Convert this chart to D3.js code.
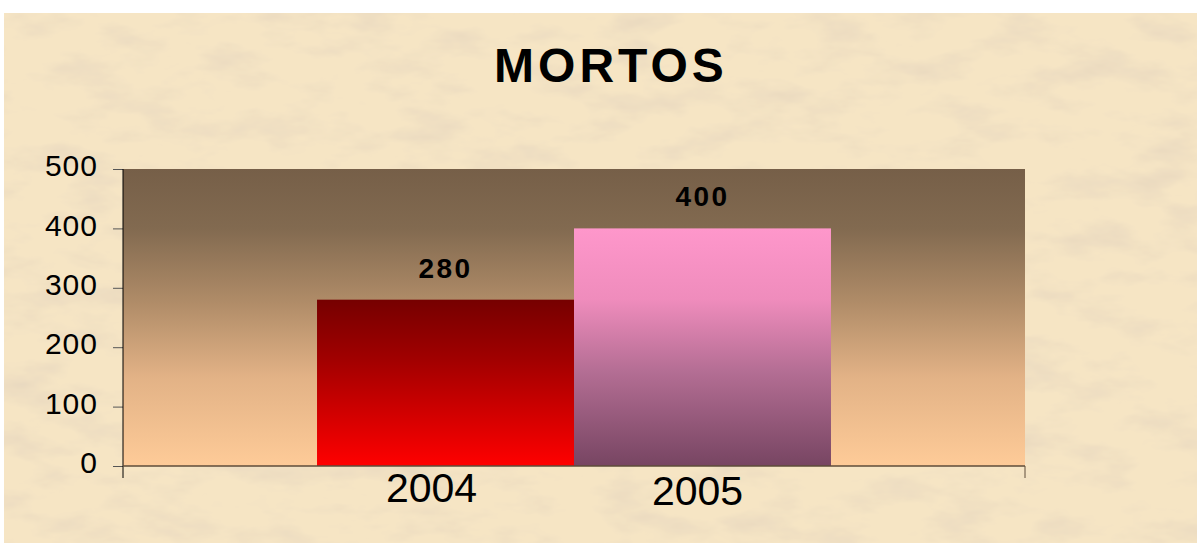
<!DOCTYPE html>
<html>
<head>
<meta charset="utf-8">
<script src="https://cdn.jsdelivr.net/npm/d3@7"></script>
<style>
  html, body { margin: 0; padding: 0; background: #fff; }
  svg { display: block; font-family: "Liberation Sans", Arial, sans-serif; }
</style>
</head>
<body>
<div id="chart"></div>
<script>
// chart data
const title = "MORTOS";
const years = ["2004", "2005"];
const deaths = [280, 400];
const yTicks = [0, 100, 200, 300, 400, 500];

const W = 1197, H = 543;
const plot = { left: 123, right: 1025, top: 169, bottom: 466 };

const svg = d3.select("#chart").append("svg")
    .attr("width", W)
    .attr("height", H);

const defs = svg.append("defs");

// parchment texture
const f = defs.append("filter").attr("id", "paper")
    .attr("x", 0).attr("y", 0).attr("width", "100%").attr("height", "100%");
f.append("feTurbulence")
    .attr("type", "fractalNoise")
    .attr("baseFrequency", "0.015 0.035")
    .attr("numOctaves", 4)
    .attr("seed", 7)
    .attr("result", "noise");
f.append("feColorMatrix")
    .attr("in", "noise")
    .attr("type", "matrix")
    .attr("values", "0 0 0 0 0.80  0 0 0 0 0.68  0 0 0 0 0.52  -1.8 0 0 0 1.0")
    .attr("result", "spots");
f.append("feComposite").attr("in", "spots").attr("in2", "SourceGraphic").attr("operator", "atop");

function vGrad(id, stops) {
    const g = defs.append("linearGradient").attr("id", id)
        .attr("x1", 0).attr("y1", 0).attr("x2", 0).attr("y2", 1);
    stops.forEach(s => g.append("stop").attr("offset", s[0]).attr("stop-color", s[1]));
}
vGrad("plotBg", [[0, "#765f48"], [0.2, "#826a50"], [0.45, "#b08c68"], [0.7, "#e2b286"], [1, "#fecb98"]]);
vGrad("bar0", [[0, "#760000"], [0.35, "#a00000"], [1, "#ff0000"]]);
vGrad("bar1", [[0, "#fe97cb"], [0.3, "#ef8cbc"], [0.6, "#b46e94"], [1, "#774562"]]);

svg.append("rect")
    .attr("x", 4).attr("y", 13)
    .attr("width", W - 4).attr("height", H - 13)
    .attr("fill", "#f6e5c4")
    .attr("filter", "url(#paper)");

// scales
const x = d3.scaleBand()
    .domain(years)
    .range([plot.left, plot.right])
    .paddingInner(0)
    .paddingOuter(0.755);

const y = d3.scaleLinear()
    .domain([0, 500])
    .range([plot.bottom, plot.top]);

// plot area
svg.append("rect")
    .attr("x", plot.left).attr("y", plot.top)
    .attr("width", plot.right - plot.left)
    .attr("height", plot.bottom - plot.top)
    .attr("fill", "url(#plotBg)");

// bars
svg.selectAll("rect.bar")
    .data(deaths)
    .enter().append("rect")
    .attr("class", "bar")
    .attr("x", (d, i) => x(years[i]))
    .attr("y", d => y(d))
    .attr("width", x.bandwidth())
    .attr("height", d => y(0) - y(d))
    .attr("fill", (d, i) => `url(#bar${i})`);

// value labels
svg.selectAll("text.val")
    .data(deaths)
    .enter().append("text")
    .attr("class", "val")
    .attr("x", (d, i) => x(years[i]) + x.bandwidth() / 2)
    .attr("y", d => y(d) - 22)
    .attr("text-anchor", "middle")
    .attr("font-size", 28)
    .attr("font-weight", "bold")
    .attr("letter-spacing", 2.5)
    .text(d => d);

// y axis
const yAxis = svg.append("g")
    .attr("transform", `translate(${plot.left},0)`)
    .call(d3.axisLeft(y).tickValues(yTicks).tickSize(10).tickPadding(15));
yAxis.select(".domain").remove();
yAxis.selectAll(".tick line").attr("stroke", "#555");
yAxis.selectAll(".tick text")
    .attr("font-size", 30)
    .attr("letter-spacing", 1)
    .attr("fill", "#000")
    .attr("font-family", "Liberation Sans, Arial, sans-serif")
    .attr("dy", "0.22em");
svg.append("line")
    .attr("x1", plot.left).attr("x2", plot.left)
    .attr("y1", plot.top).attr("y2", plot.bottom + 12)
    .attr("stroke", "#000");

// x axis
svg.append("line")
    .attr("x1", plot.left).attr("x2", plot.right)
    .attr("y1", plot.bottom).attr("y2", plot.bottom)
    .attr("stroke", "#5e4c3a").attr("stroke-width", 1.5);
svg.append("line")
    .attr("x1", plot.right).attr("x2", plot.right)
    .attr("y1", plot.bottom).attr("y2", plot.bottom + 12)
    .attr("stroke", "#5e4c3a");

svg.selectAll("text.cat")
    .data(years)
    .enter().append("text")
    .attr("class", "cat")
    .attr("x", (d, i) => x(d) + x.bandwidth() / 2 - 14 + i * 9)
    .attr("y", (d, i) => 502 + i * 3)
    .attr("text-anchor", "middle")
    .attr("font-size", 41)
    .text(d => d);

// title
svg.append("text")
    .attr("x", 611)
    .attr("y", 82)
    .attr("text-anchor", "middle")
    .attr("font-size", 48)
    .attr("font-weight", "bold")
    .attr("letter-spacing", 4)
    .text(title);
</script>
</body>
</html>
